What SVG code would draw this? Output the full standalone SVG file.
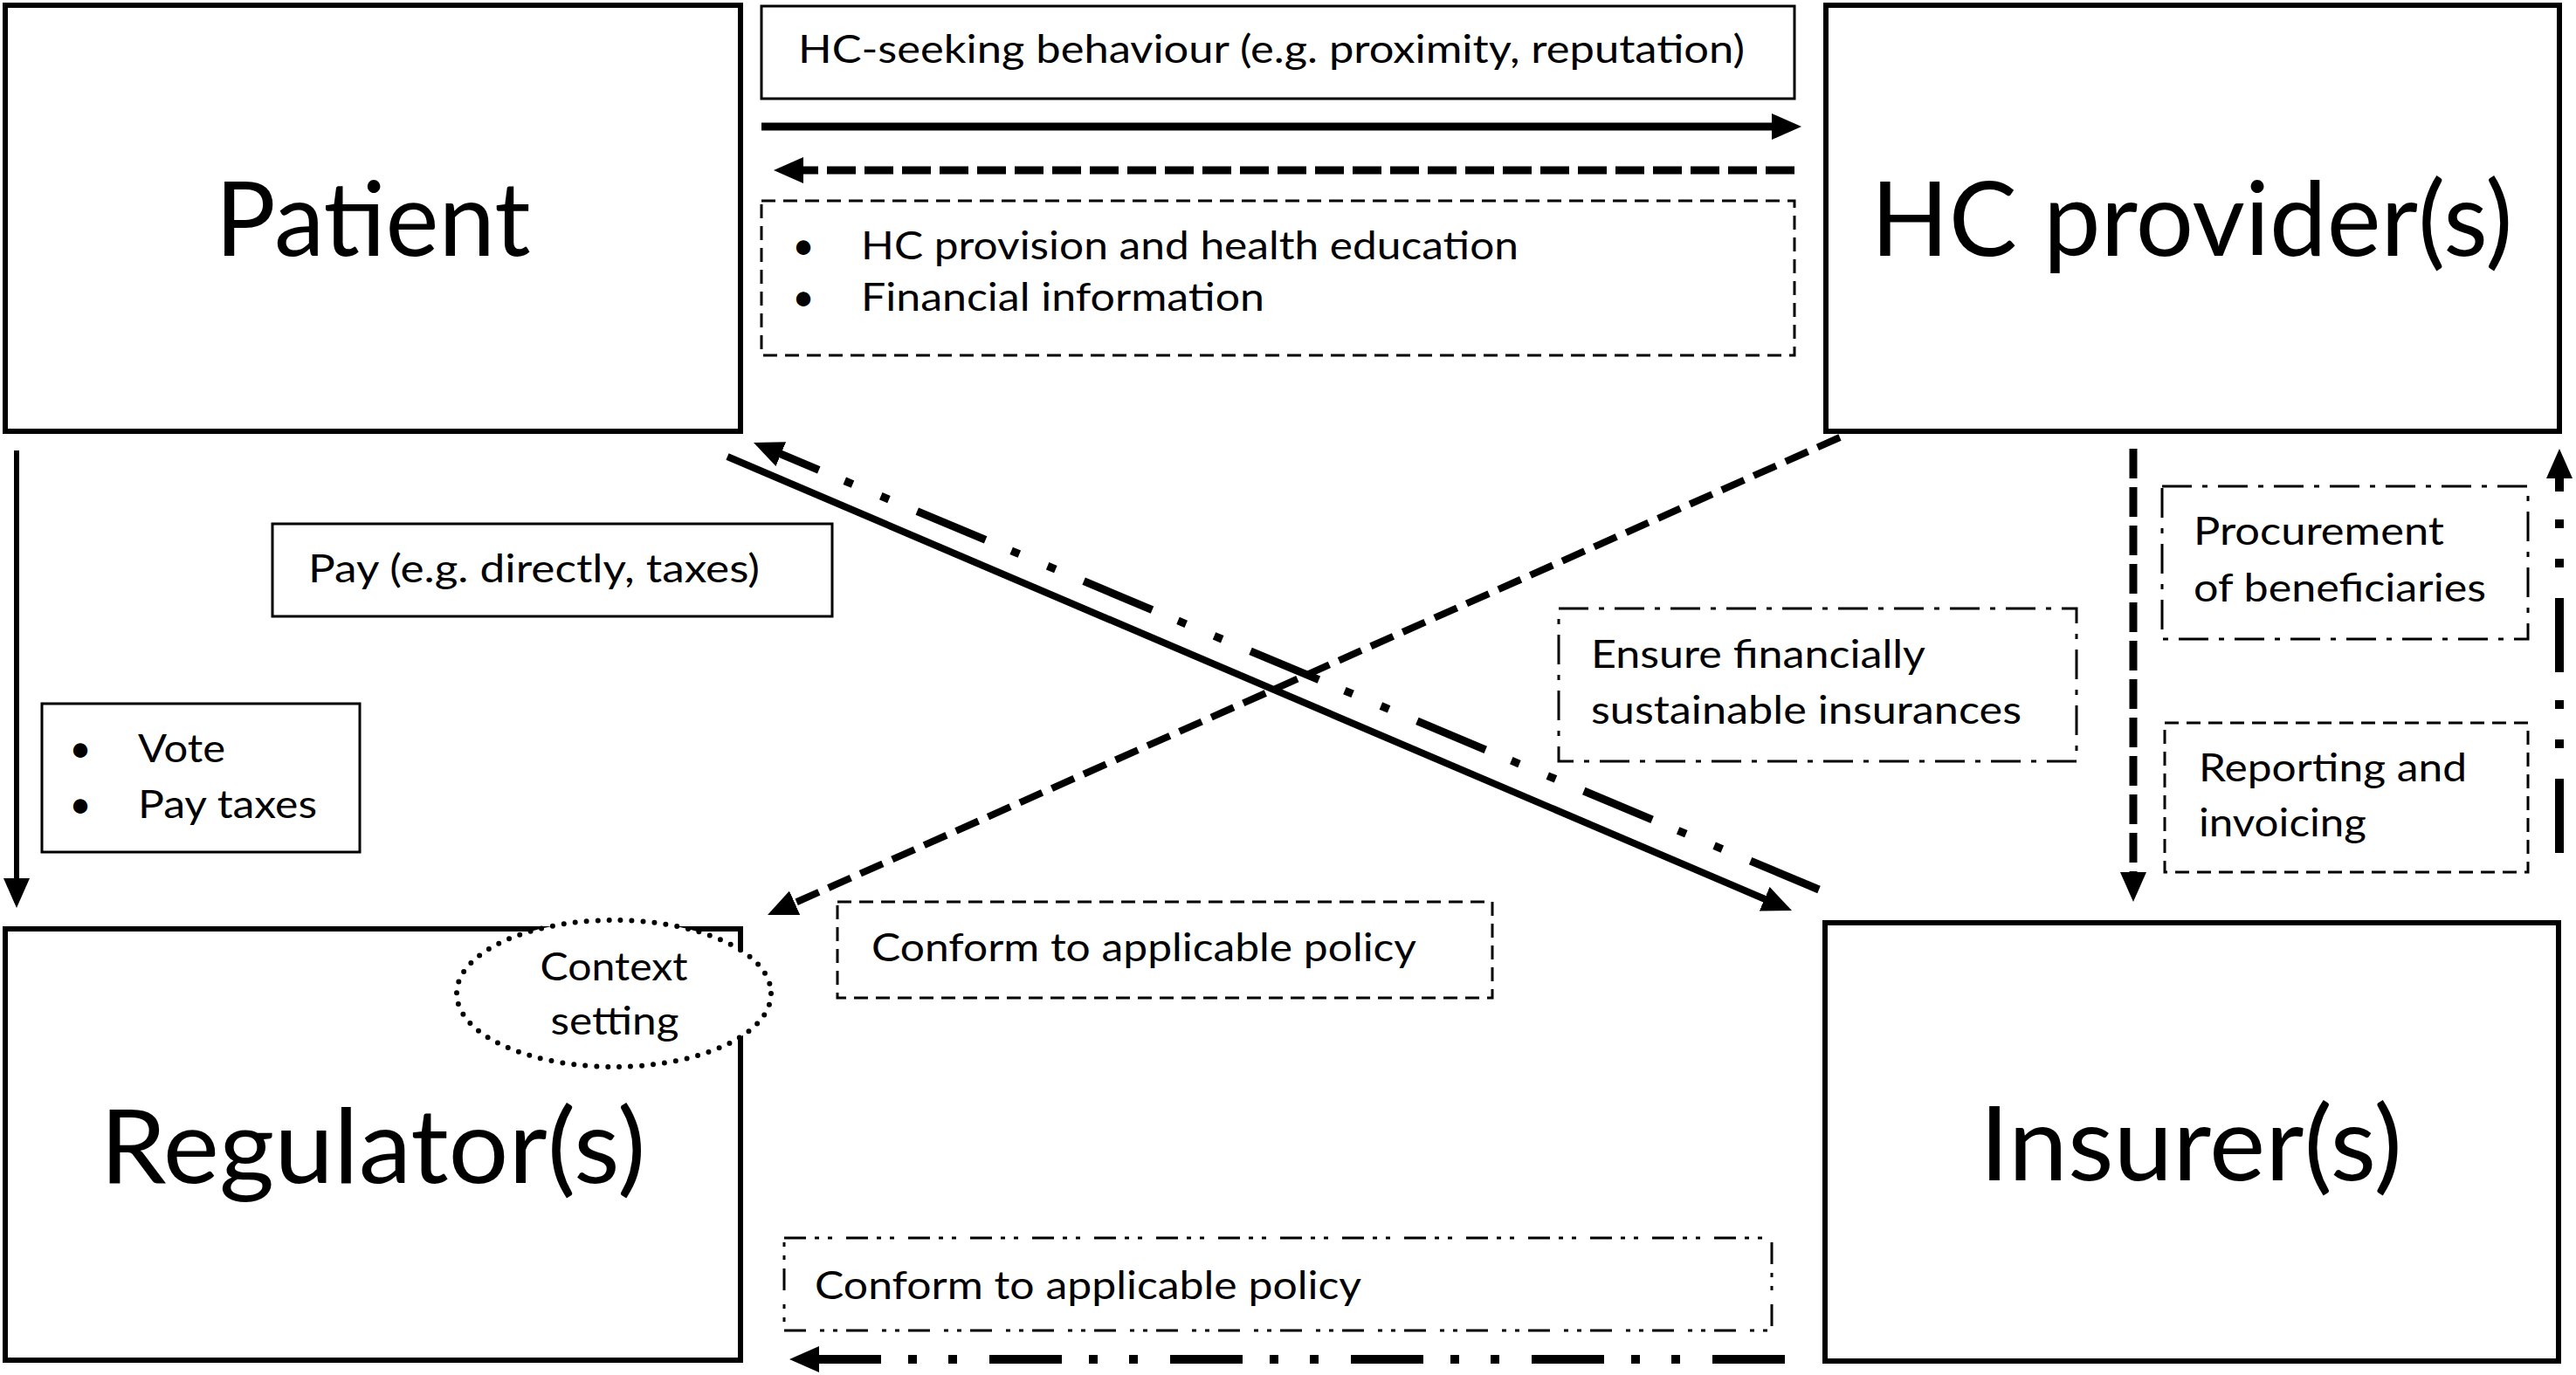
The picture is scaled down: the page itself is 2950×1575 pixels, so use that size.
<svg xmlns="http://www.w3.org/2000/svg" width="2950" height="1575" viewBox="0 0 2950 1575">
<style>
.box{fill:#fff;stroke:#000;stroke-width:6}
.lbl{fill:#fff;stroke:#000;stroke-width:3}
.dsh{fill:#fff;stroke:#000;stroke-width:3;stroke-dasharray:16 9}
.dd{fill:#fff;stroke:#000;stroke-width:3;stroke-dasharray:34 12 6 12}
.ddd{fill:#fff;stroke:#000;stroke-width:3;stroke-dasharray:25 10 5 10 5 16}
.big{font-family:Lato,"Liberation Sans",sans-serif;font-size:119px;text-anchor:middle;fill:#000}
.t{font-family:Lato,"Liberation Sans",sans-serif;font-size:44px;fill:#000}
.c{text-anchor:middle}
.ln{fill:none;stroke:#000;marker-end:url(#ah)}
</style>
<defs>
<marker id="ah" markerUnits="userSpaceOnUse" viewBox="0 0 34 30" markerWidth="34" markerHeight="30" refX="14" refY="15" orient="auto"><path d="M0,0 L34,15 L0,30 z" fill="#000"/></marker>
</defs>

<g id="patient">
<rect class="box" x="6" y="6" width="842" height="488"/>
<text class="big" x="427" y="293" textLength="361" lengthAdjust="spacingAndGlyphs">Patient</text>
</g>
<g id="hc-provider">
<rect class="box" x="2091" y="6" width="840" height="488"/>
<text class="big" x="2510" y="293" textLength="735" lengthAdjust="spacingAndGlyphs">HC provider(s)</text>
</g>
<g id="regulator">
<rect class="box" x="6" y="1064" width="842" height="494"/>
<text class="big" x="427" y="1355" textLength="625" lengthAdjust="spacingAndGlyphs">Regulator(s)</text>
</g>
<g id="insurer">
<rect class="box" x="2090" y="1057" width="840" height="502"/>
<text class="big" x="2509" y="1352" textLength="484" lengthAdjust="spacingAndGlyphs">Insurer(s)</text>
</g>
<g id="context-setting">
<ellipse cx="703" cy="1138" rx="180" ry="84" fill="#fff" stroke="#000" stroke-width="6" stroke-linecap="round" stroke-dasharray="0 13"/>
<text class="t c" x="703" y="1123" textLength="169" lengthAdjust="spacingAndGlyphs">Context</text>
<text class="t c" x="704" y="1185" textLength="147" lengthAdjust="spacingAndGlyphs">setting</text>
</g>

<g id="connectors">
<path class="ln" d="M872,145 H2043" stroke-width="9"/>
<path class="ln" d="M2055,195 H906" stroke-width="9" stroke-dasharray="33 10"/>
<path class="ln" d="M19,516 V1020" stroke-width="6"/>
<path class="ln" d="M833,523 L2033.6,1035.2" stroke-width="8"/>
<path class="ln" d="M2083,1019 L881.4,514.7" stroke-width="9" stroke-dasharray="85 35 10 35 10 32"/>
<path class="ln" d="M2107,501 L897.3,1039.9" stroke-width="8" stroke-dasharray="28 12"/>
<path class="ln" d="M2443,514 V1013" stroke-width="9" stroke-dasharray="34 10"/>
<path class="ln" d="M2931,977 V534" stroke-width="10" stroke-dasharray="85 35 10 35 10 32"/>
<path class="ln" d="M2044,1557 H924" stroke-width="10" stroke-dasharray="83 37 10 36 10 31"/>
</g>

<g id="label-hc-seeking">
<rect class="lbl" x="872" y="7" width="1183" height="106"/>
<text class="t" x="914" y="72" textLength="1084" lengthAdjust="spacingAndGlyphs">HC-seeking behaviour (e.g. proximity, reputation)</text>
</g>
<g id="label-hc-provision">
<rect class="dsh" x="872" y="230" width="1183" height="177"/>
<text class="t c" x="920" y="297">•</text>
<text class="t" x="986" y="297" textLength="753" lengthAdjust="spacingAndGlyphs">HC provision and health education</text>
<text class="t c" x="920" y="356">•</text>
<text class="t" x="986" y="356" textLength="462" lengthAdjust="spacingAndGlyphs">Financial information</text>
</g>
<g id="label-pay">
<rect class="lbl" x="312" y="600" width="641" height="106"/>
<text class="t" x="353" y="667" textLength="517" lengthAdjust="spacingAndGlyphs">Pay (e.g. directly, taxes)</text>
</g>
<g id="label-vote">
<rect class="lbl" x="48" y="806" width="364" height="170"/>
<text class="t c" x="92" y="873">•</text>
<text class="t" x="158" y="873" textLength="100" lengthAdjust="spacingAndGlyphs">Vote</text>
<text class="t c" x="92" y="937">•</text>
<text class="t" x="158" y="937" textLength="205" lengthAdjust="spacingAndGlyphs">Pay taxes</text>
</g>
<g id="label-ensure">
<rect class="dd" x="1785" y="697" width="593" height="175"/>
<text class="t" x="1822" y="765" textLength="383" lengthAdjust="spacingAndGlyphs">Ensure financially</text>
<text class="t" x="1822" y="829" textLength="493" lengthAdjust="spacingAndGlyphs">sustainable insurances</text>
</g>
<g id="label-procurement">
<rect class="dd" x="2476" y="557" width="419" height="175"/>
<text class="t" x="2512" y="624" textLength="287" lengthAdjust="spacingAndGlyphs">Procurement</text>
<text class="t" x="2512" y="689" textLength="335" lengthAdjust="spacingAndGlyphs">of beneficiaries</text>
</g>
<g id="label-reporting">
<rect class="dsh" x="2479" y="828" width="416" height="171"/>
<text class="t" x="2518" y="895" textLength="307" lengthAdjust="spacingAndGlyphs">Reporting and</text>
<text class="t" x="2518" y="958" textLength="192" lengthAdjust="spacingAndGlyphs">invoicing</text>
</g>
<g id="label-conform-top">
<rect class="dsh" x="959" y="1033" width="750" height="110"/>
<text class="t" x="998" y="1101" textLength="624" lengthAdjust="spacingAndGlyphs">Conform to applicable policy</text>
</g>
<g id="label-conform-bottom">
<rect class="ddd" x="898" y="1418" width="1131" height="106"/>
<text class="t" x="933" y="1488" textLength="626" lengthAdjust="spacingAndGlyphs">Conform to applicable policy</text>
</g>
</svg>
